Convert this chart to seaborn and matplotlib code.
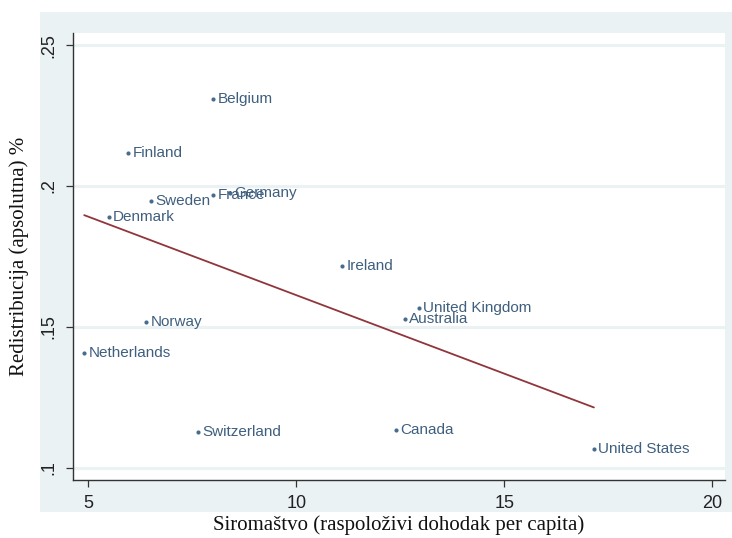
import pandas as pd
import matplotlib.pyplot as plt
import seaborn as sns
from matplotlib.patches import Rectangle

# Data
countries = ['Belgium', 'Finland', 'Sweden', 'France', 'Germany', 'Denmark', 'Ireland',
             'United Kingdom', 'Australia', 'Norway', 'Netherlands', 'Switzerland',
             'Canada', 'United States']
poverty = [8.0, 5.96, 6.51, 8.0, 8.41, 5.49, 11.1, 12.95, 12.6, 6.39, 4.9, 7.63, 12.4, 17.15]
redistribution = [0.2309, 0.2117, 0.1947, 0.1968, 0.1976, 0.1890, 0.1716, 0.1567, 0.1528,
                  0.1518, 0.1408, 0.1128, 0.1135, 0.1067]

x_ticks = [5, 10, 15, 20]
y_ticks = [0.10, 0.15, 0.20, 0.25]
y_tick_labels = ['.1', '.15', '.2', '.25']

df = pd.DataFrame({'Country': countries, 'Poverty': poverty, 'Redistribution': redistribution})

sns.set_theme(style='white')
plt.rcParams['font.family'] = ['Liberation Sans', 'DejaVu Sans']

region_color = '#eaf2f3'
navy = '#1a476f'
label_color = '#3f5f7f'

fig = plt.figure(figsize=(7.32, 5.38), dpi=100)
# Stata-like light graph region behind the plot area
fig.patches.append(Rectangle((0.0546, 0.049), 0.9454, 0.929, transform=fig.transFigure,
                             facecolor=region_color, edgecolor='none', zorder=-5))
ax = fig.add_axes([0.0997, 0.1078, 0.8907, 0.8309])
ax.set_facecolor('white')

sns.regplot(data=df, x='Poverty', y='Redistribution', ax=ax, ci=None,
            scatter_kws={'s': 9, 'color': navy, 'linewidths': 0, 'zorder': 3},
            line_kws={'color': '#90353b', 'linewidth': 1.3, 'zorder': 2})

for _, row in df.iterrows():
    ax.annotate(row['Country'], (row['Poverty'], row['Redistribution']),
                xytext=(3, 0), textcoords='offset points', va='center', ha='left',
                fontsize=11, color=label_color)

ax.set_xlim(4.63, 20.3)
ax.set_ylim(0.0957, 0.2543)
ax.set_xticks(x_ticks)
ax.set_xticklabels([str(t) for t in x_ticks], fontsize=13, color='#222222')
ax.set_yticks(y_ticks)
ax.set_yticklabels(y_tick_labels, fontsize=13, color='#222222', rotation=90, va='center')
ax.grid(axis='y', color=region_color, linewidth=2.2)
ax.grid(axis='x', visible=False)
ax.set_axisbelow(True)

for side in ['top', 'right']:
    ax.spines[side].set_visible(False)
for side in ['left', 'bottom']:
    ax.spines[side].set_color('#333333')
    ax.spines[side].set_linewidth(1.0)
ax.tick_params(axis='both', direction='out', length=5, width=0.9, color='#333333', pad=6,
               left=True, bottom=True)

ax.set_xlabel('Siromaštvo (raspoloživi dohodak per capita)', family='Liberation Serif',
              fontsize=15, color='#111111', va='center')
ax.set_ylabel('Redistribucija (apsolutna) %', family='Liberation Serif',
              fontsize=15, color='#111111', va='center')
ax.xaxis.set_label_coords(0.5, -0.10)
ax.yaxis.set_label_coords(-0.083, 0.5)

fig.savefig('out.png', dpi=100)
